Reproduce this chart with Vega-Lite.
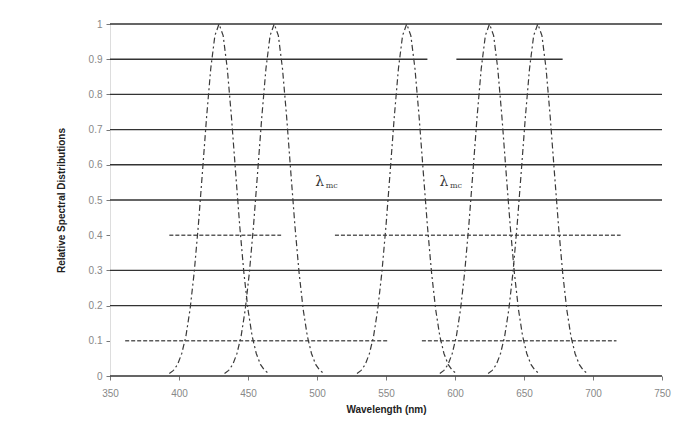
{
  "$schema": "https://vega.github.io/schema/vega-lite/v6.json",
  "width": 552,
  "height": 352,
  "autosize": {"type": "none"},
  "padding": {"left": 110, "top": 24, "right": 37, "bottom": 68},
  "background": "white",
  "config": {
    "view": {"stroke": null},
    "font": "Liberation Sans",
    "axis": {"labelFont": "Liberation Sans", "titleFont": "Liberation Sans", "labelOverlap": false}
  },
  "datasets": {
    "curves": [
      {"s":"A","w":393,"r":0.007},{"s":"A","w":396,"r":0.016},{"s":"A","w":399,"r":0.033},{"s":"A","w":402,"r":0.064},{"s":"A","w":405,"r":0.113},{"s":"A","w":408,"r":0.189},{"s":"A","w":411,"r":0.294},{"s":"A","w":414,"r":0.427},{"s":"A","w":417,"r":0.58},{"s":"A","w":420,"r":0.736},{"s":"A","w":423,"r":0.873},{"s":"A","w":426,"r":0.967},{"s":"A","w":429,"r":1},{"s":"A","w":432,"r":0.967},{"s":"A","w":435,"r":0.873},{"s":"A","w":438,"r":0.736},{"s":"A","w":441,"r":0.58},{"s":"A","w":444,"r":0.427},{"s":"A","w":447,"r":0.294},{"s":"A","w":450,"r":0.189},{"s":"A","w":453,"r":0.113},{"s":"A","w":456,"r":0.064},{"s":"A","w":459,"r":0.033},{"s":"A","w":462,"r":0.016},{"s":"A","w":465,"r":0.007},
      {"s":"B","w":433,"r":0.007},{"s":"B","w":436,"r":0.016},{"s":"B","w":439,"r":0.033},{"s":"B","w":442,"r":0.064},{"s":"B","w":445,"r":0.113},{"s":"B","w":448,"r":0.189},{"s":"B","w":451,"r":0.294},{"s":"B","w":454,"r":0.427},{"s":"B","w":457,"r":0.58},{"s":"B","w":460,"r":0.736},{"s":"B","w":463,"r":0.873},{"s":"B","w":466,"r":0.967},{"s":"B","w":469,"r":1},{"s":"B","w":472,"r":0.967},{"s":"B","w":475,"r":0.873},{"s":"B","w":478,"r":0.736},{"s":"B","w":481,"r":0.58},{"s":"B","w":484,"r":0.427},{"s":"B","w":487,"r":0.294},{"s":"B","w":490,"r":0.189},{"s":"B","w":493,"r":0.113},{"s":"B","w":496,"r":0.064},{"s":"B","w":499,"r":0.033},{"s":"B","w":502,"r":0.016},{"s":"B","w":505,"r":0.007},
      {"s":"C","w":529,"r":0.007},{"s":"C","w":532,"r":0.016},{"s":"C","w":535,"r":0.033},{"s":"C","w":538,"r":0.064},{"s":"C","w":541,"r":0.113},{"s":"C","w":544,"r":0.189},{"s":"C","w":547,"r":0.294},{"s":"C","w":550,"r":0.427},{"s":"C","w":553,"r":0.58},{"s":"C","w":556,"r":0.736},{"s":"C","w":559,"r":0.873},{"s":"C","w":562,"r":0.967},{"s":"C","w":565,"r":1},{"s":"C","w":568,"r":0.967},{"s":"C","w":571,"r":0.873},{"s":"C","w":574,"r":0.736},{"s":"C","w":577,"r":0.58},{"s":"C","w":580,"r":0.427},{"s":"C","w":583,"r":0.294},{"s":"C","w":586,"r":0.189},{"s":"C","w":589,"r":0.113},{"s":"C","w":592,"r":0.064},{"s":"C","w":595,"r":0.033},{"s":"C","w":598,"r":0.016},{"s":"C","w":601,"r":0.007},
      {"s":"D","w":589,"r":0.007},{"s":"D","w":592,"r":0.016},{"s":"D","w":595,"r":0.033},{"s":"D","w":598,"r":0.064},{"s":"D","w":601,"r":0.113},{"s":"D","w":604,"r":0.189},{"s":"D","w":607,"r":0.294},{"s":"D","w":610,"r":0.427},{"s":"D","w":613,"r":0.58},{"s":"D","w":616,"r":0.736},{"s":"D","w":619,"r":0.873},{"s":"D","w":622,"r":0.967},{"s":"D","w":625,"r":1},{"s":"D","w":628,"r":0.967},{"s":"D","w":631,"r":0.873},{"s":"D","w":634,"r":0.736},{"s":"D","w":637,"r":0.58},{"s":"D","w":640,"r":0.427},{"s":"D","w":643,"r":0.294},{"s":"D","w":646,"r":0.189},{"s":"D","w":649,"r":0.113},{"s":"D","w":652,"r":0.064},{"s":"D","w":655,"r":0.033},{"s":"D","w":658,"r":0.016},{"s":"D","w":661,"r":0.007},
      {"s":"E","w":624,"r":0.007},{"s":"E","w":627,"r":0.016},{"s":"E","w":630,"r":0.033},{"s":"E","w":633,"r":0.064},{"s":"E","w":636,"r":0.113},{"s":"E","w":639,"r":0.189},{"s":"E","w":642,"r":0.294},{"s":"E","w":645,"r":0.427},{"s":"E","w":648,"r":0.58},{"s":"E","w":651,"r":0.736},{"s":"E","w":654,"r":0.873},{"s":"E","w":657,"r":0.967},{"s":"E","w":660,"r":1},{"s":"E","w":663,"r":0.967},{"s":"E","w":666,"r":0.873},{"s":"E","w":669,"r":0.736},{"s":"E","w":672,"r":0.58},{"s":"E","w":675,"r":0.427},{"s":"E","w":678,"r":0.294},{"s":"E","w":681,"r":0.189},{"s":"E","w":684,"r":0.113},{"s":"E","w":687,"r":0.064},{"s":"E","w":690,"r":0.033},{"s":"E","w":693,"r":0.016},{"s":"E","w":696,"r":0.007}
    ],
    "lines": [
      {"y":0,"a":350,"b":750,"t":"solid"},
      {"y":0.1,"a":361,"b":551,"t":"dash"},
      {"y":0.1,"a":576,"b":717,"t":"dash"},
      {"y":0.2,"a":350,"b":750,"t":"solid"},
      {"y":0.3,"a":350,"b":750,"t":"solid"},
      {"y":0.4,"a":393,"b":474,"t":"dash"},
      {"y":0.4,"a":513,"b":720,"t":"dash"},
      {"y":0.5,"a":350,"b":750,"t":"solid"},
      {"y":0.6,"a":350,"b":750,"t":"solid"},
      {"y":0.7,"a":350,"b":750,"t":"solid"},
      {"y":0.8,"a":350,"b":750,"t":"solid"},
      {"y":0.9,"a":350,"b":580,"t":"solid"},
      {"y":0.9,"a":601,"b":678,"t":"solid"},
      {"y":1,"a":350,"b":750,"t":"solid"}
    ],
    "notes": [
      {"x":502,"y":0.55,"main":"λ","sub":"mc"},
      {"x":592,"y":0.55,"main":"λ","sub":"mc"}
    ]
  },
  "encoding": {
    "y": {"type": "quantitative", "scale": {"domain": [0, 1], "nice": false},
      "axis": {"values": [0,0.1,0.2,0.3,0.4,0.5,0.6,0.7,0.8,0.9,1], "tickCount": 11, "format": ".1~f", "grid": false, "domain": true, "domainColor": "#ddd",
        "tickSize": 4, "tickColor": "#777", "labelColor": "#888", "labelFontSize": 10, "labelPadding": 4, "labelOverlap": false, "labelFlush": false,
        "title": "Relative Spectral Distributions", "titleFontSize": 10, "titleFontWeight": "bold", "titleColor": "#222", "titlePadding": 22}}
  },
  "layer": [
    {
      "data": {"name": "lines"},
      "mark": {"type": "rule", "color": "#333", "strokeWidth": 1.4},
      "encoding": {
        "x": {"field": "a", "type": "quantitative", "scale": {"domain": [350, 750], "nice": false, "zero": false},
          "axis": {"values": [350,400,450,500,550,600,650,700,750], "grid": false, "domain": false, "tickSize": 4, "tickColor": "#777",
            "labelColor": "#888", "labelFontSize": 10, "labelPadding": 8, "labelOverlap": false, "labelFlush": false,
            "title": "Wavelength (nm)", "titleFontSize": 10, "titleFontWeight": "bold", "titleColor": "#222", "titlePadding": 6}},
        "x2": {"field": "b"},
        "y": {"field": "y"},
        "strokeDash": {"field": "t", "type": "nominal", "scale": {"domain": ["solid","dash"], "range": [[1,0],[4,2]]}, "legend": null},
        "opacity": {"field": "t", "type": "nominal", "scale": {"domain": ["solid","dash"], "range": [1,0.8]}, "legend": null}
      }
    },
    {
      "data": {"name": "curves"},
      "mark": {"type": "line", "color": "#3a3a3a", "strokeWidth": 1.2, "strokeDash": [6,3,2,3]},
      "encoding": {
        "x": {"field": "w", "type": "quantitative"},
        "y": {"field": "r"},
        "detail": {"field": "s", "type": "nominal"}
      }
    },
    {
      "data": {"name": "notes"},
      "mark": {"type": "text", "fontSize": 14, "color": "#333", "font": "DejaVu Serif", "baseline": "middle", "align": "center"},
      "encoding": {
        "x": {"field": "x", "type": "quantitative"},
        "y": {"field": "y"},
        "text": {"field": "main"}
      }
    },
    {
      "data": {"name": "notes"},
      "mark": {"type": "text", "fontSize": 8, "color": "#444", "font": "DejaVu Serif", "baseline": "middle", "align": "left", "dx": 6, "dy": 4},
      "encoding": {
        "x": {"field": "x", "type": "quantitative"},
        "y": {"field": "y"},
        "text": {"field": "sub"}
      }
    }
  ]
}
